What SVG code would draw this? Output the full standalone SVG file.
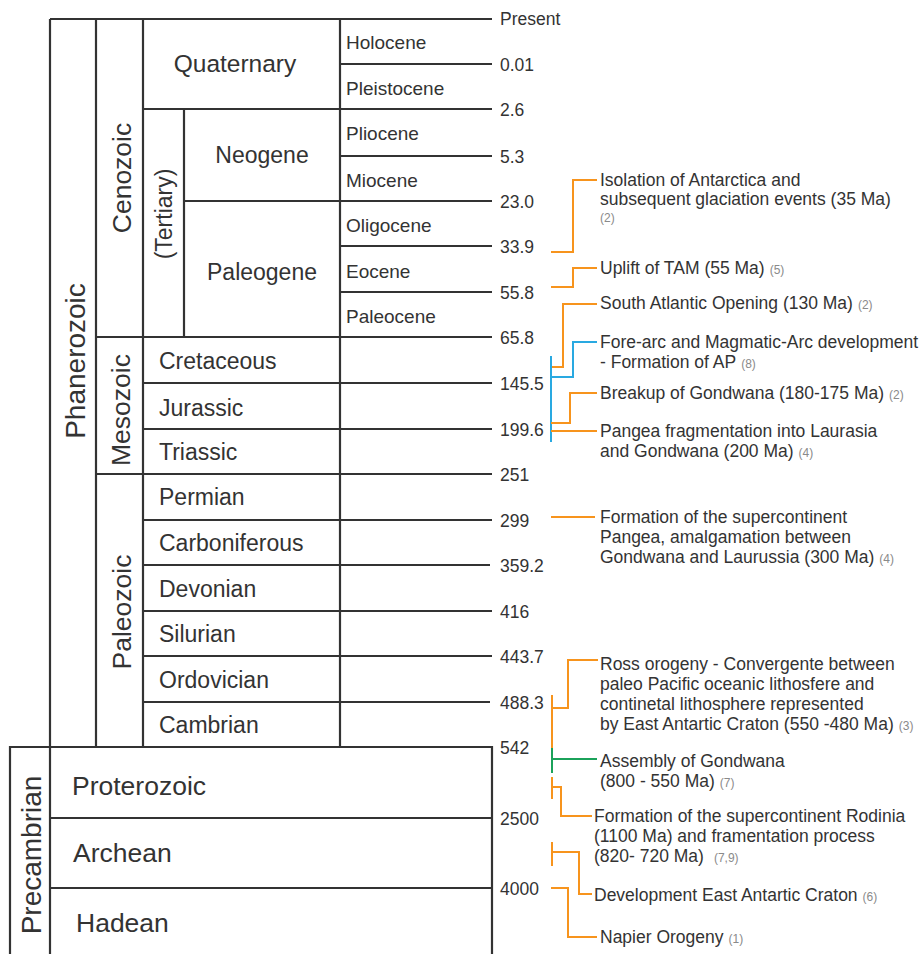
<svg xmlns="http://www.w3.org/2000/svg" width="924" height="954" viewBox="0 0 924 954">
<style>
text{font-family:"Liberation Sans",Arial,sans-serif;fill:#333}
.ln{stroke:#333;stroke-width:2.2;fill:none}
.big{font-size:26.5px}
.per{font-size:23px}
.ep{font-size:19px}
.num{font-size:17.5px}
.ann{font-size:17.5px}
.ref{font-size:12px;fill:#8a8a8a}
.or{stroke:#F7941D;stroke-width:2;fill:none}
.bl{stroke:#29A9E1;stroke-width:2;fill:none}
.gr{stroke:#1BA25A;stroke-width:2;fill:none}
</style>
<rect width="924" height="954" fill="#fff"/>
<g id="grid">
<path class="ln" d="M50,19H492M50,19V960M96,19V747M143,19V747M340,19V747M184,109V337"/>
<path class="ln" d="M340,64H492M143,109H492M340,156H492M184,201H492M340,246H492M340,292H492M96,337H492M143,383H492M143,429H492M96,474H492M143,520H492M143,565H490M143,611H492M143,656H492M143,702H490"/>
<path class="ln" d="M10,960V747H492V960M50,818H492M50,888H492"/>
</g>
<g id="phanerozoic"><text class="big" style="font-size:28px" text-anchor="middle" transform="translate(85,361) rotate(-90)">Phanerozoic</text></g>
<g id="cenozoic"><text class="big" text-anchor="middle" transform="translate(131,178) rotate(-90)">Cenozoic</text></g>
<g id="tertiary"><text class="per" text-anchor="middle" transform="translate(172,214) rotate(-90)">(Tertiary)</text></g>
<g id="mesozoic"><text class="big" text-anchor="middle" transform="translate(130,410) rotate(-90)">Mesozoic</text></g>
<g id="paleozoic"><text class="big" text-anchor="middle" transform="translate(131,612) rotate(-90)">Paleozoic</text></g>
<g id="precambrian"><text class="big" style="font-size:28px" text-anchor="middle" transform="translate(41,855) rotate(-90)">Precambrian</text></g>
<g id="quaternary"><text class="per" style="font-size:24.5px" x="235" y="72" text-anchor="middle">Quaternary</text></g>
<g id="neogene"><text class="per" x="262" y="163" text-anchor="middle">Neogene</text></g>
<g id="paleogene"><text class="per" x="262" y="280" text-anchor="middle">Paleogene</text></g>
<g id="epochs" class="ep">
<text class="ep" x="346" y="49">Holocene</text>
<text class="ep" x="346" y="95">Pleistocene</text>
<text class="ep" x="346" y="140">Pliocene</text>
<text class="ep" x="346" y="187">Miocene</text>
<text class="ep" x="346" y="232">Oligocene</text>
<text class="ep" x="346" y="278">Eocene</text>
<text class="ep" x="346" y="323">Paleocene</text>
</g>
<g id="periods">
<text class="per" x="159" y="369">Cretaceous</text>
<text class="per" x="159" y="416">Jurassic</text>
<text class="per" x="159" y="460">Triassic</text>
<text class="per" x="159" y="505">Permian</text>
<text class="per" x="159" y="551">Carboniferous</text>
<text class="per" x="159" y="597">Devonian</text>
<text class="per" x="159" y="642">Silurian</text>
<text class="per" x="159" y="688">Ordovician</text>
<text class="per" x="159" y="733">Cambrian</text>
</g>
<g id="eons">
<text style="font-size:26.5px" x="72" y="795">Proterozoic</text>
<text style="font-size:26.5px" x="73" y="862">Archean</text>
<text style="font-size:26.5px" x="76" y="932">Hadean</text>
</g>
<g id="ages">
<text class="num" x="500" y="25">Present</text>
<text class="num" x="500" y="71">0.01</text>
<text class="num" x="500" y="116">2.6</text>
<text class="num" x="500" y="163">5.3</text>
<text class="num" x="500" y="208">23.0</text>
<text class="num" x="500" y="253">33.9</text>
<text class="num" x="500" y="299">55.8</text>
<text class="num" x="500" y="344">65.8</text>
<text class="num" x="500" y="390">145.5</text>
<text class="num" x="500" y="436">199.6</text>
<text class="num" x="500" y="481">251</text>
<text class="num" x="500" y="527">299</text>
<text class="num" x="500" y="572">359.2</text>
<text class="num" x="500" y="618">416</text>
<text class="num" x="500" y="663">443.7</text>
<text class="num" x="500" y="709">488.3</text>
<text class="num" x="500" y="754">542</text>
<text class="num" x="500" y="825">2500</text>
<text class="num" x="500" y="895">4000</text>
</g>
<g id="connectors">
<path class="or" d="M551,252H573V180H597"/>
<path class="or" d="M551,287H573V268H597"/>
<path class="or" d="M551,367H563V304H597"/>
<path class="bl" d="M551,356V442M551,377H573V342H597"/>
<path class="or" d="M551,423H570V393H597"/>
<path class="or" d="M551,431H597"/>
<path class="or" d="M551,517H595"/>
<path class="or" d="M552,695V748M552,708H568V660H598"/>
<path class="gr" d="M552,748V773M552,759H597"/>
<path class="or" d="M552,777V799M552,787H561V816H592"/>
<path class="or" d="M552,842V866M552,852H579V894H592"/>
<path class="or" d="M551,888H568V937H597"/>
</g>
<g id="ev-isolation">
<text class="ann" x="600" y="186">Isolation of Antarctica and</text>
<text class="ann" x="600" y="205">subsequent glaciation events (35 Ma)</text>
<text class="ref" x="600" y="222">(2)</text>
</g>
<g id="ev-tam"><text class="ann" x="600" y="274">Uplift of TAM (55 Ma)<tspan class="ref" dx="5">(5)</tspan></text></g>
<g id="ev-southatlantic"><text class="ann" x="600" y="309">South Atlantic Opening (130 Ma)<tspan class="ref" dx="5">(2)</tspan></text></g>
<g id="ev-forearc">
<text class="ann" x="600" y="348">Fore-arc and Magmatic-Arc development</text>
<text class="ann" x="600" y="368">- Formation of AP<tspan class="ref" dx="5">(8)</tspan></text>
</g>
<g id="ev-breakup"><text class="ann" x="600" y="399">Breakup of Gondwana (180-175 Ma)<tspan class="ref" dx="5">(2)</tspan></text></g>
<g id="ev-pangeafrag">
<text class="ann" x="600" y="437">Pangea fragmentation into Laurasia</text>
<text class="ann" x="600" y="457">and Gondwana (200 Ma)<tspan class="ref" dx="5">(4)</tspan></text>
</g>
<g id="ev-pangea">
<text class="ann" x="600" y="523">Formation of the supercontinent</text>
<text class="ann" x="600" y="543">Pangea, amalgamation between</text>
<text class="ann" x="600" y="563">Gondwana and Laurussia (300 Ma)<tspan class="ref" dx="5">(4)</tspan></text>
</g>
<g id="ev-ross">
<text class="ann" x="600" y="670">Ross orogeny - Convergente between</text>
<text class="ann" x="600" y="690">paleo Pacific oceanic lithosfere and</text>
<text class="ann" x="600" y="710">continetal lithosphere represented</text>
<text class="ann" x="600" y="730">by East Antartic Craton (550 -480 Ma)<tspan class="ref" dx="5">(3)</tspan></text>
</g>
<g id="ev-gondwana">
<text class="ann" x="600" y="767">Assembly of Gondwana</text>
<text class="ann" x="600" y="787">(800 - 550 Ma)<tspan class="ref" dx="5">(7)</tspan></text>
</g>
<g id="ev-rodinia">
<text class="ann" x="594" y="822">Formation of the supercontinent Rodinia</text>
<text class="ann" x="594" y="842">(1100 Ma) and framentation process</text>
<text class="ann" x="594" y="862">(820- 720 Ma)<tspan class="ref" dx="10">(7,9)</tspan></text>
</g>
<g id="ev-craton"><text class="ann" x="594" y="901">Development East Antartic Craton<tspan class="ref" dx="5">(6)</tspan></text></g>
<g id="ev-napier"><text class="ann" x="600" y="943">Napier Orogeny<tspan class="ref" dx="5">(1)</tspan></text></g>
</svg>
